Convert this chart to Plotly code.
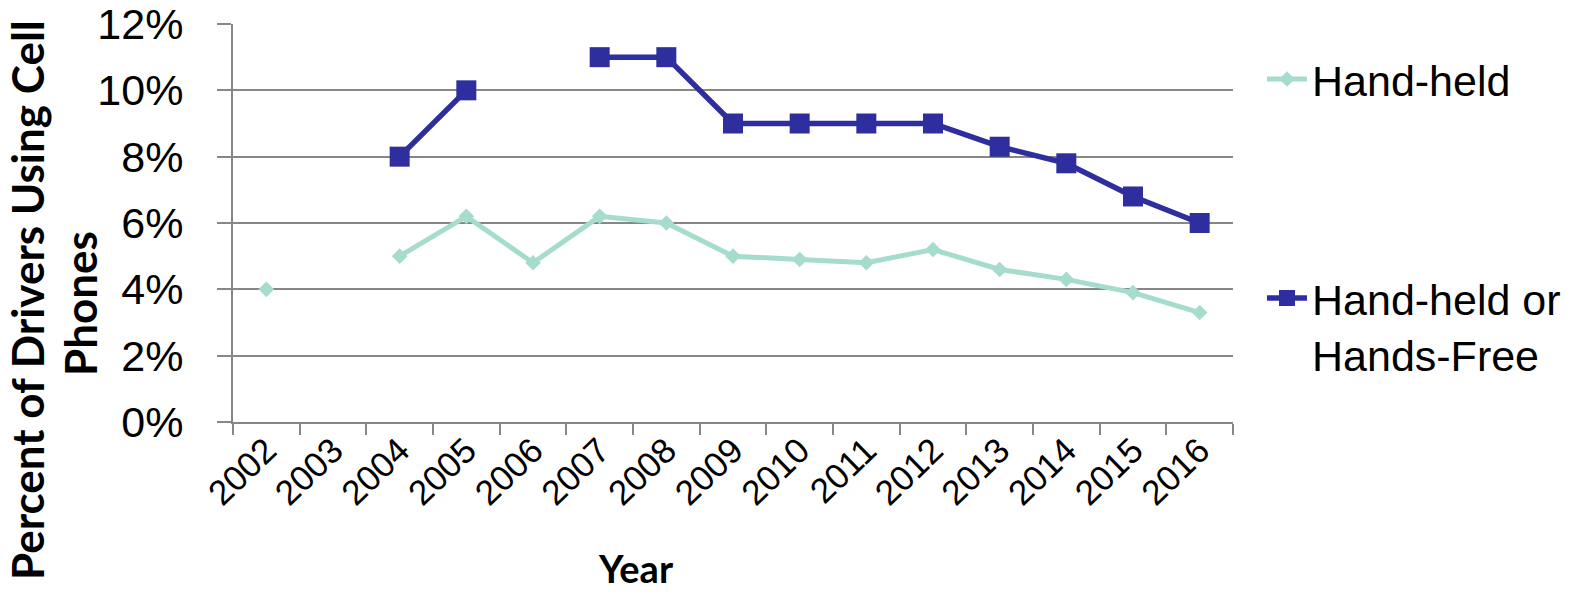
import plotly.graph_objects as go

years = ["2002", "2003", "2004", "2005", "2006", "2007", "2008", "2009",
         "2010", "2011", "2012", "2013", "2014", "2015", "2016"]

# Share of drivers using phones (fraction), None where not surveyed
hand_held = [0.040, None, 0.050, 0.062, 0.048, 0.062, 0.060, 0.050,
             0.049, 0.048, 0.052, 0.046, 0.043, 0.039, 0.033]
any_phone = [None, None, 0.080, 0.100, None, 0.110, 0.110, 0.090,
             0.090, 0.090, 0.090, 0.083, 0.078, 0.068, 0.060]

y_ticks = [0, 0.02, 0.04, 0.06, 0.08, 0.10, 0.12]
y_tick_text = ["0%", "2%", "4%", "6%", "8%", "10%", "12%"]

TEAL = "#a5dccd"
NAVY = "#2e2e9e"
GRID = "#878787"
ARIAL = "Liberation Sans, Arial, sans-serif"
BOLD = "Lato, sans-serif"

# plot-area geometry in pixels
L, R, T, B = 233, 356, 24, 173
W, H = 1589, 595
PW, PH = W - L - R, H - T - B


def px(x):
    return (x - L) / PW


def py(y):
    return (H - B - y) / PH


fig = go.Figure()
fig.add_trace(go.Scatter(
    x=years, y=hand_held, name="Hand-held", mode="lines+markers",
    line=dict(color=TEAL, width=5),
    marker=dict(symbol="diamond", size=12, color=TEAL),
    connectgaps=False, legend="legend",
))
fig.add_trace(go.Scatter(
    x=years, y=any_phone, name="Hand-held or<br>Hands-Free", mode="lines+markers",
    line=dict(color=NAVY, width=5.5),
    marker=dict(symbol="square", size=20, color=NAVY),
    connectgaps=False, legend="legend2",
))

fig.update_layout(
    width=W, height=H,
    margin=dict(l=L, r=R, t=T, b=B, autoexpand=False),
    paper_bgcolor="white", plot_bgcolor="white",
    font=dict(family=ARIAL, size=43, color="black"),
    showlegend=True,
    legend=dict(x=px(1262), y=py(79), xanchor="left", yanchor="middle",
                font=dict(family=ARIAL, size=43), bgcolor="rgba(0,0,0,0)",
                itemwidth=40),
    legend2=dict(x=px(1262), y=py(326), xanchor="left", yanchor="middle",
                 font=dict(family=ARIAL, size=43), bgcolor="rgba(0,0,0,0)",
                 itemwidth=40, valign="top"),
    xaxis=dict(
        type="category", categoryorder="array", categoryarray=years,
        range=[-0.5, len(years) - 0.5], automargin=False,
        showline=True, linecolor=GRID, linewidth=2,
        showgrid=False, ticks="outside", tickson="boundaries",
        ticklen=11, tickcolor=GRID, tickwidth=1.5,
        tickangle=-44, ticklabelstandoff=-8,
        tickfont=dict(family=ARIAL, size=35),
    ),
    yaxis=dict(
        range=[0, 0.12], tickvals=y_ticks, ticktext=y_tick_text,
        automargin=False,
        showline=True, linecolor=GRID, linewidth=2,
        showgrid=True, gridcolor=GRID, gridwidth=1.6,
        ticks="outside", ticklen=14, tickcolor=GRID, tickwidth=1.6,
        ticklabelstandoff=25, tickfont=dict(family=ARIAL, size=43),
        zeroline=False,
    ),
    annotations=[
        dict(text="<b>Percent of Drivers Using Cell</b>",
             xref="paper", yref="paper", x=px(27), y=py(300),
             xanchor="center", yanchor="middle", textangle=-90,
             showarrow=False, font=dict(family=BOLD, size=44, color="black")),
        dict(text="<b>Phones</b>",
             xref="paper", yref="paper", x=px(80), y=py(304),
             xanchor="center", yanchor="middle", textangle=-90,
             showarrow=False, font=dict(family=BOLD, size=44, color="black")),
        dict(text="<b>Year</b>", xref="paper", yref="paper",
             x=px(636), y=py(568),
             xanchor="center", yanchor="middle", showarrow=False,
             font=dict(family=BOLD, size=38, color="black")),
    ],
)

fig.write_html("out.html")
